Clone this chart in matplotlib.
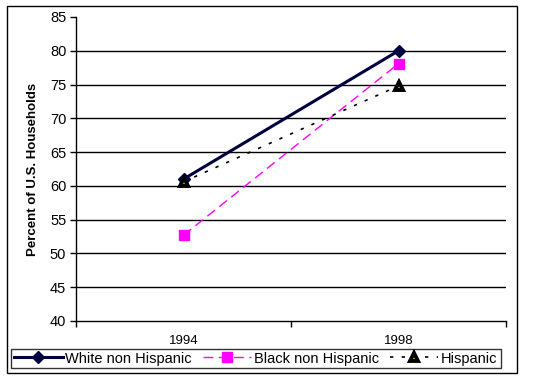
import matplotlib
matplotlib.use('Agg')
import matplotlib.pyplot as plt
from matplotlib.patches import Rectangle

plt.rcParams['font.family'] = ['Liberation Sans', 'DejaVu Sans']

years = ['1994', '1998']
white = [61.0, 80.0]
black = [52.7, 78.1]
hispanic = [60.6, 74.8]
series_labels = ['White non Hispanic', 'Black non Hispanic', 'Hispanic']

W, H = 540, 380
fig = plt.figure(figsize=(W / 100, H / 100), dpi=100)
ax = fig.add_axes([76 / W, 1 - 321 / H, 430 / W, 304 / H])

x = list(range(len(years)))
ax.plot(x, white, color='#000040', lw=2.2, marker='D', ms=6,
        markerfacecolor='#000040', markeredgecolor='#000040', label=series_labels[0])
ax.plot(x, black, color='#FF00FF', lw=1, dashes=(7, 4), marker='s', ms=7,
        markerfacecolor='#FF00FF', markeredgecolor='#FF00FF', label=series_labels[1])
ax.plot(x, hispanic, color='black', lw=1.2, dashes=(2, 5), marker='^', ms=5.5,
        markerfacecolor='#FFFF00', markeredgecolor='black', markeredgewidth=2.8,
        label=series_labels[2])

ax.set_xlim(-0.5, len(years) - 0.5)
ax.set_ylim(40, 85)
ax.set_yticks(range(40, 86, 5))
ax.tick_params(axis='y', direction='out', length=4, width=1, labelsize=10.5, pad=3)
ax.set_xticks(x)
ax.set_xticklabels(years)
ax.set_xticks([-0.5, 0.5, 1.5], minor=True)
ax.tick_params(axis='x', which='major', length=0, labelsize=9.5, pad=10)
ax.tick_params(axis='x', which='minor', direction='out', length=4, width=1)

for v in range(45, 81, 5):
    ax.axhline(v, color='black', lw=1, zorder=0)

for side in ['top', 'right']:
    ax.spines[side].set_visible(False)
ax.spines['left'].set_linewidth(1)
ax.spines['bottom'].set_linewidth(1)

ax.set_ylabel('Percent of U.S. Households', fontsize=9.5, fontweight='bold', labelpad=8)

leg = fig.legend(loc='center', bbox_to_anchor=(256 / W, 1 - 358.5 / H), ncol=3,
                 fontsize=10.5, frameon=True, fancybox=False, edgecolor='black',
                 handlelength=3.3, handletextpad=0.2, columnspacing=0.75,
                 borderpad=0.2, borderaxespad=0)
leg.get_frame().set_linewidth(1)

fig.patches.append(Rectangle((7 / W, 1 - 373 / H), 510 / W, 367 / H,
                             transform=fig.transFigure, fill=False,
                             edgecolor='black', lw=1))

fig.savefig('out.png', dpi=100)
